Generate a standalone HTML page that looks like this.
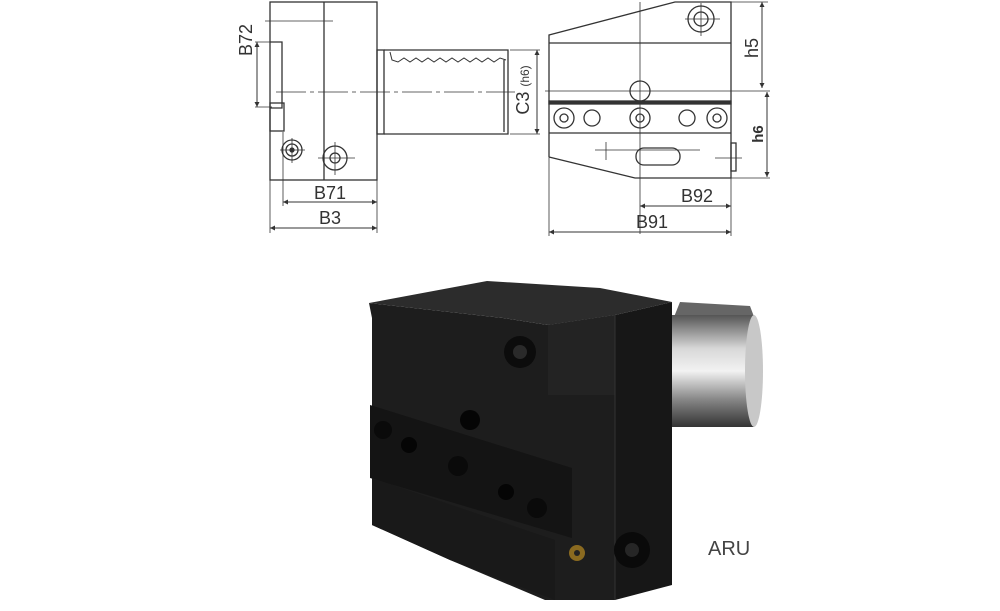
<!DOCTYPE html>
<html><head><meta charset="utf-8"><style>
html,body{margin:0;padding:0;background:#fff;}
svg{display:block;}
text{font-family:"Liberation Sans",sans-serif;fill:#333;}
</style></head><body>
<svg width="1000" height="611" viewBox="0 0 1000 611" xmlns="http://www.w3.org/2000/svg">
<defs>
<linearGradient id="sh" x1="0" y1="0" x2="0" y2="1">
<stop offset="0" stop-color="#555"/><stop offset="0.3" stop-color="#d8d8d8"/><stop offset="0.5" stop-color="#f2f2f2"/><stop offset="0.75" stop-color="#888"/><stop offset="1" stop-color="#333"/>
</linearGradient>
<marker id="a" viewBox="0 0 10 10" refX="10" refY="5" markerWidth="7" markerHeight="5" orient="auto-start-reverse"><path d="M0,0L10,5L0,10z" fill="#333"/></marker>
</defs>
<g stroke="#333" fill="none" stroke-width="1.3">
<rect x="270" y="2" width="107" height="178"/>
<line x1="324" y1="2" x2="324" y2="180"/>
<polyline points="270,42 282,42 282,108 270,108"/>
<rect x="270" y="103" width="14" height="28"/>
<rect x="377" y="50" width="7" height="84"/>
<polyline points="384,50 508,50 508,134 384,134"/>
<line x1="504" y1="60" x2="504" y2="132"/>
<polyline points="390,52 392,60 398,62 404,58 410,62 416,58 422,62 428,58 434,62 440,58 446,62 452,58 458,62 464,58 470,62 476,58 482,62 488,58 494,62 500,58 506,60" stroke-width="1"/>
<line x1="276" y1="92" x2="515" y2="92" stroke-width="0.8" stroke-dasharray="30,4,4,4"/>
<line x1="265" y1="21" x2="333" y2="21" stroke-width="0.8"/>
<circle cx="292" cy="150" r="10"/><circle cx="292" cy="150" r="6"/><circle cx="292" cy="150" r="2" fill="#333"/>
<circle cx="335" cy="158" r="12"/><circle cx="335" cy="158" r="5"/>
<line x1="280" y1="150" x2="305" y2="150" stroke-width="0.8"/><line x1="292" y1="138" x2="292" y2="163" stroke-width="0.8"/>
<line x1="318" y1="158" x2="355" y2="158" stroke-width="0.8"/><line x1="335" y1="142" x2="335" y2="175" stroke-width="0.8"/>
<line x1="257" y1="42" x2="257" y2="107" marker-start="url(#a)" marker-end="url(#a)" stroke-width="1"/>
<line x1="255" y1="42" x2="272" y2="42" stroke-width="0.8"/><line x1="255" y1="107" x2="272" y2="107" stroke-width="0.8"/>
<line x1="270" y1="180" x2="270" y2="233" stroke-width="0.8"/><line x1="377" y1="180" x2="377" y2="233" stroke-width="0.8"/>
<line x1="283" y1="132" x2="283" y2="206" stroke-width="0.8"/>
<line x1="283" y1="202" x2="377" y2="202" marker-start="url(#a)" marker-end="url(#a)" stroke-width="1"/>
<line x1="270" y1="228" x2="377" y2="228" marker-start="url(#a)" marker-end="url(#a)" stroke-width="1"/>
<line x1="510" y1="50" x2="540" y2="50" stroke-width="0.8"/><line x1="510" y1="134" x2="540" y2="134" stroke-width="0.8"/>
<line x1="537" y1="50" x2="537" y2="134" marker-start="url(#a)" marker-end="url(#a)" stroke-width="1"/>
<polyline points="549,157 549,35 675,2 731,2 731,178 635,178 549,157"/>
<line x1="549" y1="43" x2="731" y2="43"/>
<rect x="549" y="101" width="182" height="3" fill="#333"/>
<line x1="549" y1="133" x2="731" y2="133"/>
<line x1="640" y1="2" x2="640" y2="234" stroke-width="0.8"/>
<line x1="545" y1="91" x2="770" y2="91" stroke-width="0.8"/>
<circle cx="640" cy="91" r="10"/>
<circle cx="701" cy="19" r="13"/><circle cx="701" cy="19" r="7"/>
<line x1="685" y1="19" x2="720" y2="19" stroke-width="0.8"/><line x1="701" y1="3" x2="701" y2="36" stroke-width="0.8"/>
<circle cx="564" cy="118" r="10"/><circle cx="564" cy="118" r="4"/>
<circle cx="592" cy="118" r="8"/>
<circle cx="640" cy="118" r="10"/><circle cx="640" cy="118" r="4"/>
<circle cx="687" cy="118" r="8"/>
<circle cx="717" cy="118" r="10"/><circle cx="717" cy="118" r="4"/>
<rect x="636" y="148" width="44" height="17" rx="8"/>
<line x1="595" y1="150" x2="700" y2="150" stroke-width="0.8"/>
<line x1="606" y1="142" x2="606" y2="160" stroke-width="0.8"/>
<rect x="731" y="143" width="5" height="28"/>
<line x1="715" y1="158" x2="742" y2="158" stroke-width="0.8"/>
<line x1="731" y1="2" x2="768" y2="2" stroke-width="0.8"/><line x1="731" y1="178" x2="770" y2="178" stroke-width="0.8"/>
<line x1="762" y1="2" x2="762" y2="88" marker-start="url(#a)" marker-end="url(#a)" stroke-width="1"/>
<line x1="767" y1="92" x2="767" y2="177" marker-start="url(#a)" marker-end="url(#a)" stroke-width="1"/>
<line x1="549" y1="157" x2="549" y2="236" stroke-width="0.8"/><line x1="731" y1="178" x2="731" y2="236" stroke-width="0.8"/>
<line x1="640" y1="206" x2="731" y2="206" marker-start="url(#a)" marker-end="url(#a)" stroke-width="1"/>
<line x1="549" y1="232" x2="731" y2="232" marker-start="url(#a)" marker-end="url(#a)" stroke-width="1"/>
</g>
<text x="330" y="199" font-size="18" text-anchor="middle">B71</text>
<text x="330" y="224" font-size="18" text-anchor="middle">B3</text>
<text transform="translate(252,40) rotate(-90)" font-size="18" text-anchor="middle">B72</text>
<text transform="translate(529,90) rotate(-90)" font-size="18" text-anchor="middle">C3 <tspan font-size="12">(h6)</tspan></text>
<text x="697" y="202" font-size="18" text-anchor="middle">B92</text>
<text x="652" y="228" font-size="18" text-anchor="middle">B91</text>
<text transform="translate(758,48) rotate(-90)" font-size="18" text-anchor="middle">h5</text>
<text transform="translate(763,134) rotate(-90)" font-size="15" font-weight="bold" text-anchor="middle">h6</text>
<g>
<path d="M680,302 L750,306 L756,322 L672,322z" fill="#666"/>
<rect x="672" y="315" width="82" height="112" fill="url(#sh)"/>
<ellipse cx="754" cy="371" rx="9" ry="56" fill="#c8c8c8"/>
<polygon points="369,303 503,318 548,325 615,315 615,600 545,600 450,560 372,525 372,318" fill="#1d1d1d"/>
<polygon points="369,303 487,281 600,288 672,302 615,315 548,325 503,318" fill="#2c2c2c"/>
<polygon points="615,315 672,302 672,585 615,600" fill="#171717"/>
<polygon points="548,325 615,315 615,395 548,395" fill="#232323"/>
<polygon points="370,405 572,468 572,538 370,478" fill="#141414"/>
<polygon points="372,478 555,540 555,600 450,560 372,525" fill="#191919"/>
<line x1="615" y1="315" x2="615" y2="600" stroke="#333" stroke-width="1"/>
<circle cx="520" cy="352" r="16" fill="#0c0c0c"/><circle cx="520" cy="352" r="7" fill="#2a2a2a"/>
<circle cx="383" cy="430" r="9" fill="#0a0a0a"/><circle cx="458" cy="466" r="10" fill="#0a0a0a"/><circle cx="537" cy="508" r="10" fill="#0a0a0a"/>
<circle cx="409" cy="445" r="8" fill="#050505"/><circle cx="470" cy="420" r="10" fill="#050505"/><circle cx="506" cy="492" r="8" fill="#050505"/>
<circle cx="632" cy="550" r="18" fill="#0a0a0a"/><circle cx="632" cy="550" r="7" fill="#262626"/>
<circle cx="577" cy="553" r="8" fill="#8a6a20"/><circle cx="577" cy="553" r="3" fill="#222"/>
</g>
<text x="708" y="555" font-size="20" style="fill:#444">ARU</text>
</svg>
</body></html>
